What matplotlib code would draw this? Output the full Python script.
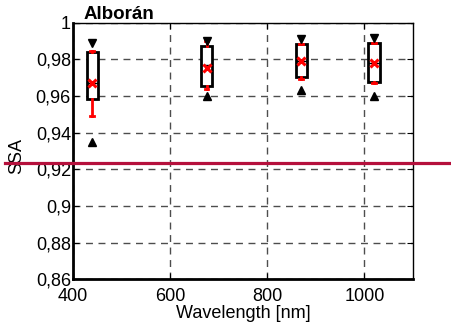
import matplotlib
matplotlib.use('Agg')
import matplotlib.pyplot as plt
from matplotlib.lines import Line2D

plt.rcParams['font.family'] = ['Liberation Sans', 'DejaVu Sans']

# dane
wavelength = [440, 675, 870, 1020]
ssa_max = [0.989, 0.990, 0.991, 0.9914]
ssa_whishi = [0.9845, 0.9900, 0.9885, 0.9890]
ssa_q3 = [0.9838, 0.9874, 0.9883, 0.9890]
ssa_med = [0.967, 0.977, 0.979, 0.978]
ssa_mean = [0.967, 0.975, 0.979, 0.978]
ssa_q1 = [0.9585, 0.9654, 0.9703, 0.9678]
ssa_whislo = [0.949, 0.964, 0.969, 0.967]
ssa_min = [0.935, 0.960, 0.963, 0.960]

yticks = [0.86, 0.88, 0.90, 0.92, 0.94, 0.96, 0.98, 1.0]
ytick_labels = ['0,86', '0,88', '0,9', '0,92', '0,94', '0,96', '0,98', '1']
xticks = [400, 600, 800, 1000]

fig = plt.figure(figsize=(4.52, 3.29), dpi=100)
ax = fig.add_axes([0.1615, 0.1505, 0.752, 0.781])

stats = []
for i in range(len(wavelength)):
    stats.append({'whislo': ssa_whislo[i], 'q1': ssa_q1[i], 'med': ssa_med[i],
                  'q3': ssa_q3[i], 'whishi': ssa_whishi[i], 'mean': ssa_mean[i],
                  'fliers': []})

ax.bxp(stats, positions=wavelength, widths=23, patch_artist=True, showmeans=True,
       manage_ticks=False, showfliers=False,
       boxprops=dict(facecolor='white', edgecolor='black', linewidth=2),
       medianprops=dict(color='black', linewidth=1),
       whiskerprops=dict(color='red', linewidth=2),
       capprops=dict(color='red', linewidth=2),
       capwidths=8,
       meanprops=dict(marker='x', markeredgecolor='red', markersize=6, markeredgewidth=2.2))

ax.plot(wavelength, ssa_max, linestyle='', marker='v', color='black', markersize=6)
ax.plot(wavelength, ssa_min, linestyle='', marker='^', color='black', markersize=6)

ax.set_xlim(400, 1100)
ax.set_ylim(0.86, 1.0)
ax.set_xticks(xticks)
ax.set_yticks(yticks)
ax.set_yticklabels(ytick_labels)
ax.tick_params(direction='in', top=True, right=True, length=4, labelsize=13)
ax.tick_params(axis='y', pad=1.5)
ax.tick_params(axis='x', pad=6)

ax.set_axisbelow(True)
ax.grid(True, linestyle=(0, (5, 4)), color='0.3', linewidth=1)

ax.spines['left'].set_linewidth(2)
ax.spines['bottom'].set_linewidth(2)
ax.spines['top'].set_linewidth(1)
ax.spines['right'].set_linewidth(1)

ax.set_xlabel('Wavelength [nm]', fontsize=13, labelpad=0)
ax.set_ylabel('SSA', fontsize=13)
ax.yaxis.set_label_coords(-0.14, 0.48)
ax.text(0.03, 1.0, 'Alborán', transform=ax.transAxes, fontsize=13.5,
        fontweight='bold', ha='left', va='bottom')

# czerwona linia na całą szerokość
fig.add_artist(Line2D([0.011, 1.0], [0.5046, 0.5046], color='#b5103c', linewidth=2.3,
                      transform=fig.transFigure))

fig.savefig('out.png', dpi=100)
